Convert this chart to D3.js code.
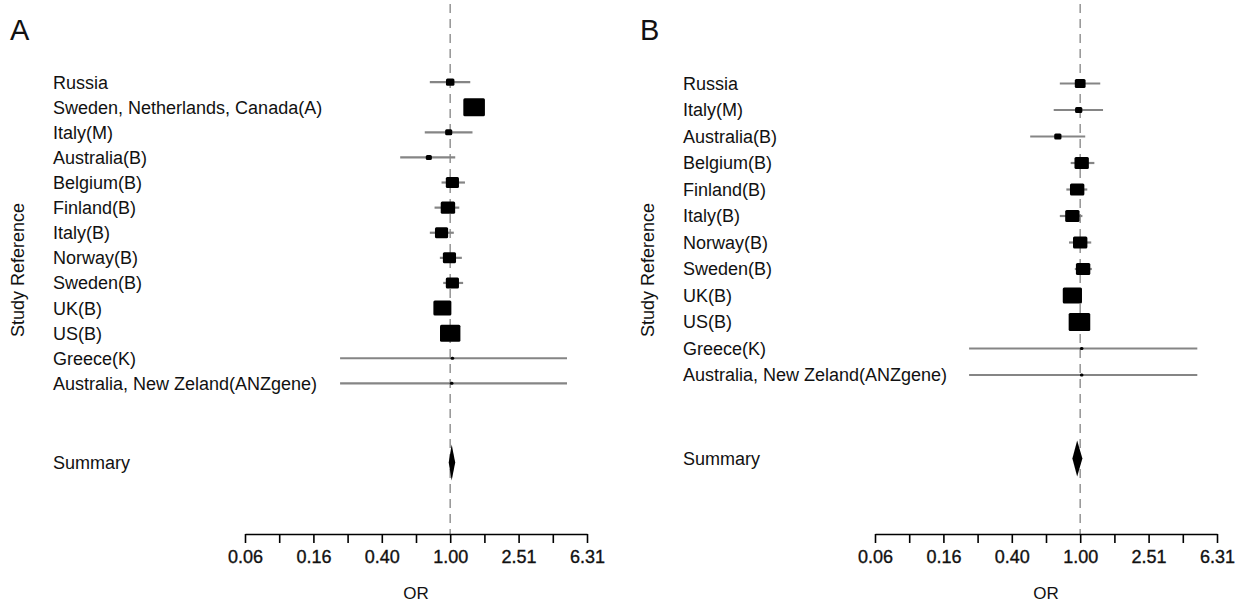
<!DOCTYPE html>
<html>
<head>
<meta charset="utf-8">
<script src="https://cdn.jsdelivr.net/npm/d3@7"></script>
<style>
  body { margin: 0; background: #fff; }
  text { font-family: "Liberation Sans", Arial, sans-serif; fill: #111; }
</style>
</head>
<body>
<svg width="1242" height="606"></svg>
<script>
// panel A studies
var studiesA = ["Russia", "Sweden, Netherlands, Canada(A)", "Italy(M)", "Australia(B)", "Belgium(B)",
  "Finland(B)", "Italy(B)", "Norway(B)", "Sweden(B)", "UK(B)", "US(B)", "Greece(K)",
  "Australia, New Zeland(ANZgene)"];
var orA    = [1.00, 1.38, 0.98, 0.75, 1.03, 0.97, 0.89, 0.99, 1.03, 0.90, 1.00, 1.03, 1.02];
var lowerA = [0.76, 1.25, 0.71, 0.51, 0.89, 0.81, 0.76, 0.87, 0.91, 0.82, 0.93, 0.227, 0.227];
var upperA = [1.31, 1.52, 1.35, 1.07, 1.22, 1.13, 1.05, 1.17, 1.19, 0.99, 1.08, 4.82, 4.82];
var weightA = [3.1, 20.2, 2.2, 1.6, 7.5, 9.0, 7.5, 7.5, 7.5, 14.0, 18.0, 0.25, 0.25];
var summaryA = [1.02, 0.98, 1.07]; // OR, lower, upper

// panel B studies
var studiesB = ["Russia", "Italy(M)", "Australia(B)", "Belgium(B)", "Finland(B)", "Italy(B)",
  "Norway(B)", "Sweden(B)", "UK(B)", "US(B)", "Greece(K)", "Australia, New Zeland(ANZgene)"];
var orB    = [1.00, 0.98, 0.74, 1.02, 0.96, 0.90, 1.00, 1.04, 0.90, 0.99, 1.02, 1.02];
var lowerB = [0.76, 0.70, 0.51, 0.88, 0.83, 0.76, 0.86, 0.93, 0.82, 0.92, 0.224, 0.224];
var upperB = [1.31, 1.36, 1.07, 1.21, 1.10, 1.03, 1.16, 1.17, 0.98, 1.07, 4.84, 4.84];
var weightB = [5.5, 2.5, 2.5, 9.8, 9.8, 9.8, 9.8, 9.8, 17.5, 22.1, 0.3, 0.4];
var summaryB = [0.96, 0.90, 1.03];

var tickLabels = ["0.06", "0.16", "0.40", "1.00", "2.51", "6.31"];
var tickLogs = [-1.2, -1.0, -0.8, -0.6, -0.4, -0.2, 0, 0.2, 0.4, 0.6, 0.8];

var svg = d3.select("svg");

function drawPanel(ox, letter, names, est, lo, hi, wt, summ) {
  var n = names.length;
  var g = svg.append("g").attr("transform", "translate(" + ox + ",0)");

  var x = d3.scaleLog()
      .domain([Math.pow(10, -1.2), Math.pow(10, 0.8)])
      .range([245, 587]);
  var y = d3.scaleLinear().domain([0, n + 6]).range([57, 534]);
  var box = d3.scaleSqrt().domain([0, d3.max(wt)]).range([0, 18]);
  function bs(w) { return Math.max(3, box(w)); }

  g.append("text").attr("x", 10).attr("y", 40)
    .style("font-size", "29px").text(letter);

  // reference line at OR = 1
  g.append("line")
    .attr("x1", x(1)).attr("x2", x(1))
    .attr("y1", 4).attr("y2", y(n + 6))
    .attr("stroke", "#9a9a9a").attr("stroke-width", 1.6)
    .attr("stroke-dasharray", "9,6");

  // labels
  g.selectAll(".lab").data(names).enter().append("text")
    .attr("class", "lab")
    .attr("x", 53)
    .attr("y", function(d, i) { return y(i + 1); })
    .attr("dy", "0.36em")
    .style("font-size", "18px")
    .text(function(d) { return d; });

  g.append("text").attr("x", 53).attr("y", y(n + 3.15)).attr("dy", "0.36em")
    .style("font-size", "18px").text("Summary");

  g.append("text")
    .attr("transform", "translate(24,270) rotate(-90)")
    .attr("text-anchor", "middle")
    .style("font-size", "18px")
    .text("Study Reference");

  // confidence intervals
  g.selectAll(".ci").data(est).enter().append("line")
    .attr("class", "ci")
    .attr("x1", function(d, i) { return x(lo[i]); })
    .attr("x2", function(d, i) { return x(hi[i]); })
    .attr("y1", function(d, i) { return y(i + 1); })
    .attr("y2", function(d, i) { return y(i + 1); })
    .attr("stroke", "#858585").attr("stroke-width", 2.2);

  // boxes
  g.selectAll(".box").data(est).enter().append("rect")
    .attr("class", "box")
    .attr("x", function(d, i) { return x(d) - bs(wt[i]) * 0.6; })
    .attr("y", function(d, i) { return y(i + 1) - bs(wt[i]) / 2; })
    .attr("width", function(d, i) { return bs(wt[i]) * 1.2; })
    .attr("height", function(d, i) { return bs(wt[i]); })
    .attr("rx", 1.5)
    .attr("fill", "#000");

  // summary diamond
  var yc = y(n + 3.15);
  g.append("polygon")
    .attr("points", [
      [x(summ[1]), yc], [x(summ[0]), yc - 18],
      [x(summ[2]), yc], [x(summ[0]), yc + 18]
    ].map(function(p) { return p.join(","); }).join(" "))
    .attr("fill", "#000");

  // axis
  var ax = g.append("g")
    .attr("transform", "translate(0," + y(n + 6) + ")")
    .call(d3.axisBottom(x)
      .tickValues(tickLogs.map(function(v) { return Math.pow(10, v); }))
      .tickSize(9).tickSizeOuter(0)
      .tickFormat(function(d, i) { return i % 2 === 0 ? tickLabels[i / 2] : ""; }));
  ax.select(".domain").attr("stroke", "#000").attr("stroke-width", 1.6);
  ax.selectAll(".tick line").attr("stroke", "#000").attr("stroke-width", 1.6);
  ax.selectAll(".tick text")
    .attr("y", 16)
    .style("font-family", "Liberation Sans, Arial, sans-serif")
    .style("font-size", "18px")
    .attr("fill", "#111")
    .attr("stroke", "#111").attr("stroke-width", 0.35);

  g.append("text").attr("x", (245 + 587) / 2).attr("y", 599)
    .attr("text-anchor", "middle")
    .style("font-size", "17px").text("OR");
}

drawPanel(0, "A", studiesA, orA, lowerA, upperA, weightA, summaryA);
drawPanel(630, "B", studiesB, orB, lowerB, upperB, weightB, summaryB);
</script>
</body>
</html>
